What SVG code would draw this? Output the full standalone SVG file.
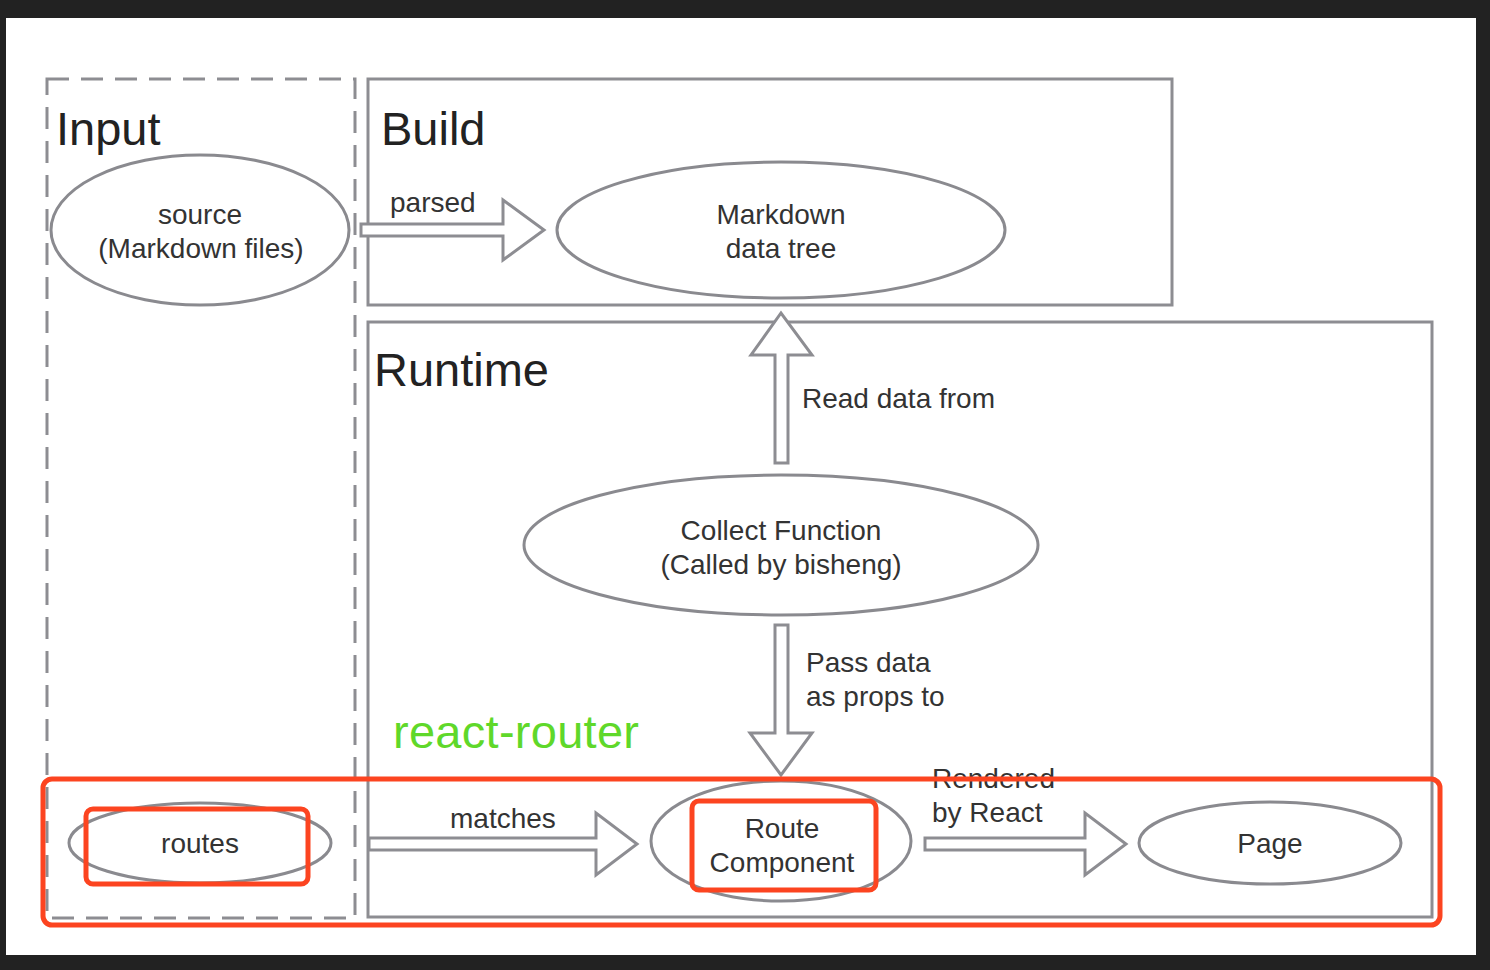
<svg xmlns="http://www.w3.org/2000/svg" width="1490" height="970" viewBox="0 0 1490 970">
<style>
.frame{fill:none;stroke:#8d8d92;stroke-width:3}
.dash{fill:none;stroke:#8d8d92;stroke-width:3;stroke-dasharray:22 12}
.node{fill:#fff;stroke:#8a8a8f;stroke-width:3}
.arrow{fill:#fff;stroke:#8d8d92;stroke-width:3;stroke-linejoin:miter}
.title{font-family:"Liberation Sans",Arial,sans-serif;font-size:47px;fill:#222}
.lbl{font-family:"Liberation Sans",Arial,sans-serif;font-size:28px;fill:#333}
.mid{text-anchor:middle}
.red{fill:none;stroke:#fc4420;stroke-width:5}
.green{font-family:"Liberation Sans",Arial,sans-serif;font-size:47px;fill:#5fd82a}
</style>
<rect x="0" y="0" width="1490" height="970" fill="#222"/>
<rect x="6" y="18" width="1470" height="937" fill="#fff"/>

<g id="input-group">
<rect class="dash" x="47" y="79" width="308" height="839"/>
<text class="title" x="56" y="145">Input</text>
</g>
<g id="build-group">
<rect class="frame" x="368" y="79" width="804" height="226"/>
<text class="title" x="381" y="145">Build</text>
</g>
<g id="runtime-group">
<rect class="frame" x="368" y="322" width="1064" height="595"/>
<text class="title" x="374" y="386">Runtime</text>
</g>

<g id="connectors">
<path class="arrow" d="M361 224 H503 V200 L544 230 L503 260 V236 H361 Z"/>
<text class="lbl" x="390" y="212">parsed</text>
<path class="arrow" d="M775 463 V355 H751 L781 313 L812 355 H788 V463 Z"/>
<text class="lbl" x="802" y="408">Read data from</text>
<path class="arrow" d="M775 625 V733 H750 L781 775 L812 733 H788 V625 Z"/>
<text class="lbl" x="806" y="672">Pass data</text>
<text class="lbl" x="806" y="706">as props to</text>
<path class="arrow" d="M369 838 H596 V813 L637 844 L596 875 V850 H369 Z"/>
<text class="lbl" x="450" y="828">matches</text>
<path class="arrow" d="M925 838 H1085 V813 L1126 844 L1085 875 V850 H925 Z"/>
<text class="lbl" x="932" y="788">Rendered</text>
<text class="lbl" x="932" y="822">by React</text>
</g>

<g id="source">
<ellipse class="node" cx="200" cy="230" rx="149" ry="75"/>
<text class="lbl mid" x="200" y="224">source</text>
<text class="lbl mid" x="201" y="258">(Markdown files)</text>
</g>
<g id="markdown-tree">
<ellipse class="node" cx="781" cy="230" rx="224" ry="68"/>
<text class="lbl mid" x="781" y="224">Markdown</text>
<text class="lbl mid" x="781" y="258">data tree</text>
</g>
<g id="collect">
<ellipse class="node" cx="781" cy="545" rx="257" ry="70"/>
<text class="lbl mid" x="781" y="540">Collect Function</text>
<text class="lbl mid" x="781" y="574">(Called by bisheng)</text>
</g>
<g id="routes">
<ellipse class="node" cx="200" cy="843" rx="131" ry="40"/>
<text class="lbl mid" x="200" y="853">routes</text>
</g>
<g id="route-component">
<ellipse class="node" cx="781" cy="841" rx="130" ry="60"/>
<text class="lbl mid" x="782" y="838">Route</text>
<text class="lbl mid" x="782" y="872">Component</text>
</g>
<g id="page">
<ellipse class="node" cx="1270" cy="843" rx="131" ry="41"/>
<text class="lbl mid" x="1270" y="853">Page</text>
</g>

<g id="annotations">
<text class="green" x="393" y="748" textLength="246">react-router</text>
<rect class="red" x="43" y="779" width="1397" height="146" rx="9"/>
<rect class="red" x="86" y="809" width="222" height="75" rx="7"/>
<rect class="red" x="692" y="801" width="184" height="89" rx="7"/>
</g>
</svg>
